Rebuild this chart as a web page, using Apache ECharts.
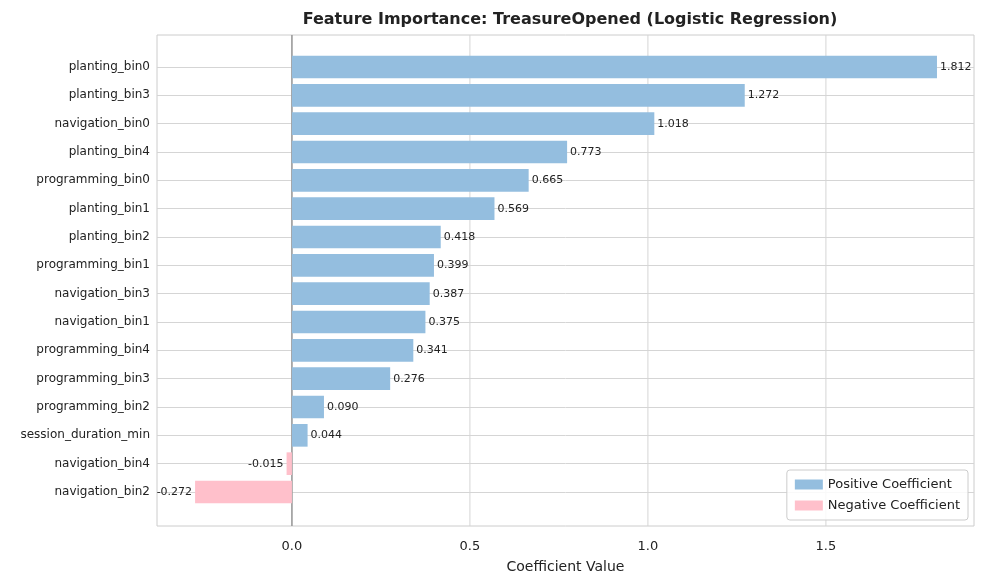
<!DOCTYPE html>
<html>
<head>
<meta charset="utf-8">
<script src="https://cdn.jsdelivr.net/npm/echarts@6/dist/echarts.min.js"></script>
<style>html,body{margin:0;padding:0;background:#fff}#chart{width:984px;height:584px}</style>
</head>
<body>
<div id="chart"></div>
<script>
var features = ['planting_bin0','planting_bin3','navigation_bin0','planting_bin4','programming_bin0','planting_bin1','planting_bin2','programming_bin1','navigation_bin3','navigation_bin1','programming_bin4','programming_bin3','programming_bin2','session_duration_min','navigation_bin4','navigation_bin2'];
var coefs = [1.812,1.272,1.018,0.773,0.665,0.569,0.418,0.399,0.387,0.375,0.341,0.276,0.090,0.044,-0.015,-0.272];
var xMin = -0.379, xMax = 1.916;

var chart = echarts.init(document.getElementById('chart'));

var posData = [], negData = [];
coefs.forEach(function(v, i){
  if (v >= 0) posData.push([v, i]); else negData.push([v, i]);
});

function renderBar(color){
  return function(params, api){
    var v = api.value(0), idx = api.value(1);
    var a = api.coord([0, idx]), b = api.coord([v, idx]);
    var h = api.size([0, 1])[1] * 0.8;
    var x0 = Math.min(a[0], b[0]), w = Math.abs(b[0] - a[0]);
    return {
      type: 'group',
      children: [
        {type: 'rect', shape: {x: x0, y: a[1] - h/2, width: w, height: h}, style: {fill: color}},
        {type: 'text', style: {
          text: v.toFixed(3), x: v >= 0 ? b[0] + 3 : b[0] - 3, y: a[1],
          align: v >= 0 ? 'left' : 'right', verticalAlign: 'middle',
          fontSize: 11, fill: '#222', fontFamily: 'DejaVu Sans'}}
      ]
    };
  };
}

var option = {
  textStyle: {fontFamily: 'DejaVu Sans'},
  title: {
    text: 'Feature Importance: TreasureOpened (Logistic Regression)',
    left: 565, top: 7, textAlign: 'center',
    textStyle: {fontSize: 16, fontWeight: 'bold', color: '#222'}
  },
  legend: {
    right: 16, bottom: 64, orient: 'vertical',
    icon: 'rect', itemWidth: 28, itemHeight: 10, itemGap: 8,
    borderColor: '#ccc', borderWidth: 1, borderRadius: 3, padding: [8, 8],
    backgroundColor: 'rgba(255,255,255,0.85)',
    textStyle: {fontSize: 13, color: '#222'},
    data: ['Positive Coefficient', 'Negative Coefficient']
  },
  grid: [
    {left: 157, right: 10, top: 35, bottom: 58, show: true, borderColor: '#ccc', borderWidth: 1},
    {left: 157, right: 10, top: 67, bottom: 92}
  ],
  xAxis: [
    {gridIndex: 0, type: 'value', min: xMin, max: xMax, interval: 0.5,
     axisLine: {show: false}, axisTick: {show: false},
     axisLabel: {margin: 14, fontSize: 13, color: '#222',
       customValues: [0, 0.5, 1, 1.5],
       formatter: function(v){ return v.toFixed(1); }},
     splitLine: {show: false},
     name: 'Coefficient Value', nameLocation: 'middle', nameGap: 34,
     nameTextStyle: {fontSize: 14, color: '#222'}},
    {gridIndex: 1, type: 'value', min: xMin, max: xMax, show: false}
  ],
  yAxis: [
    {gridIndex: 0, type: 'value', min: -0.65, max: 15.65, inverse: true, show: false},
    {gridIndex: 1, type: 'value', min: 0, max: 15, interval: 1, inverse: true,
     axisLine: {show: false}, axisTick: {show: false},
     axisLabel: {margin: 7, fontSize: 12, color: '#222',
       formatter: function(v){ return features[v] || ''; }},
     splitLine: {lineStyle: {color: '#d5d5d5', width: 1}}}
  ],
  series: [
    {type: 'line', xAxisIndex: 0, yAxisIndex: 0, silent: true, symbol: 'none',
     data: [[0, -0.65], [0, 15.65]], lineStyle: {color: '#999', width: 1.5}, z: 1},
    {type: 'custom', name: 'Positive Coefficient', xAxisIndex: 1, yAxisIndex: 1,
     itemStyle: {color: '#94bedf'}, renderItem: renderBar('#94bedf'), data: posData, z: 3},
    {type: 'custom', name: 'Negative Coefficient', xAxisIndex: 1, yAxisIndex: 1,
     itemStyle: {color: '#ffc0cb'}, renderItem: renderBar('#ffc0cb'), data: negData, z: 3}
  ]
};

// vertical grid lines spanning full frame
[0, 0.5, 1, 1.5].forEach(function(t){
  option.series.push({type: 'line', xAxisIndex: 0, yAxisIndex: 0, silent: true, symbol: 'none',
    data: [[t, -0.65], [t, 15.65]], lineStyle: {color: '#d5d5d5', width: 1}, z: 0});
});

chart.setOption(option);
</script>
</body>
</html>
